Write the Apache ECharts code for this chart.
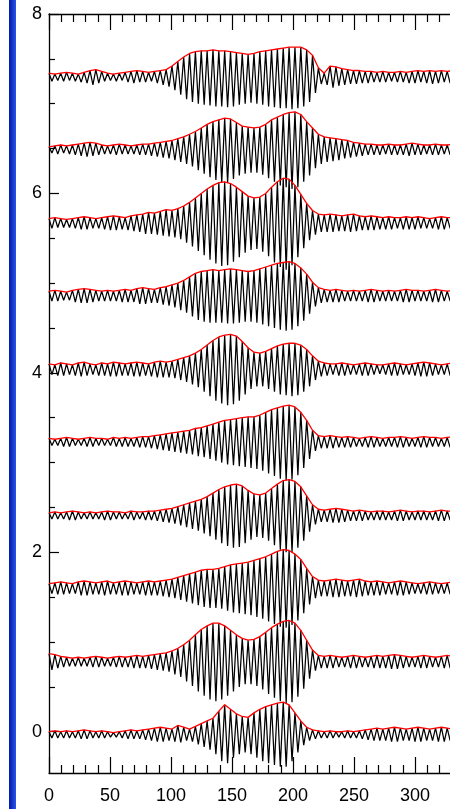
<!DOCTYPE html>
<html>
<head>
<meta charset="utf-8">
<script src="https://cdn.jsdelivr.net/npm/echarts@6/dist/echarts.min.js"></script>
<style>
  html, body { margin: 0; padding: 0; background: #fff; overflow: hidden; }
  #chart { width: 450px; height: 809px; }
</style>
</head>
<body>
<div id="chart"></div>
<script>
// Ten stacked wave-packet traces (bottom to top). Each trace is a zigzag
// alternating between crests (which also form the red envelope) and troughs,
// in hundredths of a y unit relative to the trace baseline.
const halfPeriod = 2.4;           // x distance between a crest and the next trough
const baselines = [-0.03, 0.78, 1.6, 2.41, 3.23, 4.04, 4.86, 5.67, 6.49, 7.3];

const crest0 = [3,4,3,4,3,4,5,4,3,4, 3,2,3,4,5,4,5,6,7,8, 7,6,10,8,6,9,12,15,18,26, 33,28,23,20,19,24,28,31,33,35, 36,33,24,15,8,5,4,3,4,3, 3,4,3,4,5,6,7,6,7,8, 7,6,7,8,7,6,7,8,7,6];
const trough0 = [4,4,4,4,4,5,5,4,4,4, 3,3,4,5,5,5,6,7,8,8, 7,8,9,7,8,11,14,17,22,30, 32,26,22,20,22,26,30,32,34,36, 36,30,20,12,7,5,4,4,4,3, 4,4,4,5,6,7,7,7,8,8, 7,7,8,8,7,7,8,8,7];

const crest1 = [9,8,6,5,4,5,4,5,6,5, 4,5,6,5,6,7,6,7,8,9, 10,12,15,19,24,30,36,40,43,43, 40,35,30,26,24,25,28,33,38,42, 45,46,43,35,24,13,7,6,7,6, 5,6,7,6,5,6,7,6,7,8, 7,6,5,6,7,6,5,6,7,6];
const trough1 = [9,7,6,5,5,5,5,6,6,5, 5,6,6,6,7,7,7,8,9,10, 11,14,17,22,27,33,38,42,44,42, 38,33,28,25,25,27,31,36,40,44, 46,45,39,30,19,10,7,7,7,6, 6,7,7,6,6,7,7,7,8,8, 7,6,6,7,7,6,6,7,7];

const crest2 = [5,6,7,6,5,7,8,7,6,7, 8,6,7,8,7,6,7,8,7,8, 9,10,12,14,16,18,20,21,21,22, 24,26,27,28,29,31,33,35,38,41, 43,42,38,32,22,13,9,8,9,10, 9,8,9,10,8,7,8,7,6,7, 8,7,6,5,6,7,6,5,6,7];
const trough2 = [6,7,7,6,6,8,8,7,7,8, 7,7,8,8,7,7,8,8,8,9, 10,11,13,15,17,19,21,22,22,23, 25,27,28,29,30,32,34,37,40,43, 44,41,36,28,18,11,9,9,10,10, 9,9,10,9,8,8,8,7,7,8, 8,7,6,6,7,7,6,6,7];

const crest3 = [3,4,3,4,5,4,3,4,3,4, 5,4,4,3,5,4,4,5,5,6, 7,8,10,12,14,16,18,21,25,29, 32,34,35,33,28,24,23,25,30,35, 39,40,38,32,22,12,7,6,7,8, 7,6,5,6,5,4,5,5,4,5, 6,5,4,5,5,4,5,6,5,5];
const trough3 = [4,4,4,5,5,4,4,4,4,5, 5,4,4,4,5,4,5,5,6,7, 8,9,11,13,15,17,20,23,27,31, 34,36,35,31,27,24,25,28,33,38, 41,41,36,28,18,10,7,7,8,8, 7,6,6,6,5,5,5,5,5,6, 6,5,5,5,5,5,6,6,5];

const crest4 = [4,3,4,5,4,3,4,5,4,4, 3,5,4,5,4,5,6,6,7,8, 9,10,11,12,13,15,16,18,20,22, 24,25,26,27,28,28,30,33,36,38, 40,41,39,33,24,13,7,6,7,6, 5,6,5,4,5,6,5,4,5,5, 6,5,4,5,6,5,5,4,5,6];
const trough4 = [4,4,5,5,4,4,5,5,4,4, 4,5,5,5,5,6,6,7,8,9, 10,11,12,13,14,16,17,19,21,23, 25,26,27,28,29,30,32,35,38,41, 43,42,37,29,19,10,7,7,7,6, 6,6,5,5,6,6,5,5,5,6, 6,5,5,6,6,5,5,5,6];

const crest5 = [6,5,7,6,5,7,8,6,5,7, 6,8,7,6,7,8,7,6,8,9, 8,9,11,13,15,18,22,27,32,36, 38,39,37,31,24,19,18,20,23,26, 28,29,29,27,22,15,9,7,6,6, 7,6,5,6,7,6,5,5,6,7, 6,5,6,7,8,7,6,5,6,7];
const trough5 = [6,7,7,6,7,8,7,6,7,7, 8,8,7,7,8,8,7,8,9,9, 9,10,12,14,17,20,25,30,35,38, 40,39,35,28,22,19,19,22,25,28, 29,30,29,25,19,12,8,7,6,7, 7,6,6,7,7,6,5,6,7,7, 6,6,7,8,8,7,6,6,7];

const crest6 = [5,6,5,4,6,7,8,7,6,5, 6,5,6,7,6,8,9,8,7,9, 10,12,14,17,21,25,27,28,29,28, 29,30,29,28,27,28,30,32,34,36, 37,38,36,31,24,15,9,7,6,7, 6,5,6,5,6,7,6,5,6,5, 6,7,6,6,5,6,7,6,5,6];
const trough6 = [6,6,5,5,7,8,8,7,6,6, 6,6,7,7,7,9,9,8,8,10, 11,13,16,19,23,27,29,30,30,30, 31,31,30,29,29,30,32,34,36,38, 39,38,34,28,20,12,8,7,7,7, 6,6,6,6,7,7,6,6,6,6, 7,7,6,6,6,7,7,6,6];

const crest7 = [5,6,5,4,5,6,7,6,5,6, 7,8,7,6,8,9,10,12,11,13, 15,14,16,19,23,28,33,38,42,45, 46,44,40,35,30,28,29,33,40,46, 50,49,42,32,22,14,10,9,10,9, 8,9,10,8,7,8,7,6,7,6, 6,7,6,7,6,5,6,7,6,6];
const trough7 = [6,5,5,5,6,7,7,6,6,7, 8,8,7,8,9,10,12,12,13,14, 15,16,18,22,26,31,36,41,45,48, 47,43,38,33,30,29,32,37,44,49, 52,47,38,28,19,13,10,10,10,9, 9,10,9,8,8,8,7,7,7,6, 7,7,7,6,6,6,7,7,6];

const crest8 = [3,4,5,4,5,6,7,8,7,5, 4,5,6,5,4,5,6,6,7,8, 9,10,12,14,17,20,24,28,31,33, 35,34,30,26,25,24,25,28,33,36, 39,41,42,39,31,24,17,14,13,12, 11,10,8,7,6,6,5,5,6,5, 5,6,7,6,5,5,6,5,5,6];
const trough8 = [4,5,4,5,6,7,8,7,6,5, 5,6,5,5,5,6,6,7,8,9, 10,12,14,16,19,23,27,31,34,37, 37,33,29,27,26,26,28,32,36,40, 42,44,42,36,29,21,16,14,13,12, 10,9,8,7,6,6,6,5,6,6, 6,7,6,6,5,6,6,5,6];

const crest9 = [4,3,4,5,4,3,5,7,8,6, 4,3,4,5,6,7,6,5,6,7, 8,12,17,22,26,28,29,29,30,29, 29,28,27,26,25,26,28,29,30,31, 32,33,33,33,30,24,10,4,12,11, 9,8,7,7,6,6,5,6,5,5, 6,5,6,7,6,7,6,7,6,7];
const trough9 = [5,4,5,4,5,6,7,9,7,5, 4,5,4,6,7,6,6,5,7,9, 11,15,20,25,28,30,31,32,33,33, 34,33,31,30,29,30,31,33,34,35, 35,36,35,33,28,18,8,9,12,10, 9,8,8,7,7,6,6,6,5,6, 6,7,7,6,7,8,7,6,7];

const crests = [crest0, crest1, crest2, crest3, crest4, crest5, crest6, crest7, crest8, crest9];
const troughs = [trough0, trough1, trough2, trough3, trough4, trough5, trough6, trough7, trough8, trough9];

// Axis ticks
const xTickStep = 50;
const yMajorTicks = [0, 2, 4, 6, 8];
const yMinorTicks = [0.5, 1, 1.5, 2.5, 3, 3.5, 4.5, 5, 5.5, 6.5, 7, 7.5];

const series = [];
crests.forEach((crest, t) => {
  const base = baselines[t];
  const wave = [];
  for (let k = 0; k < crest.length; k++) {
    wave.push([2 * k * halfPeriod, base + crest[k] / 100]);
    if (k < troughs[t].length) {
      wave.push([(2 * k + 1) * halfPeriod, base - troughs[t][k] / 100]);
    }
  }
  const envelope = crest.map((v, k) => [2 * k * halfPeriod, base + v / 100]);
  series.push({
    type: 'line', data: wave, showSymbol: false, silent: true, z: 2,
    lineStyle: { color: '#000000', width: 1.25 }
  });
  series.push({
    type: 'line', data: envelope, showSymbol: false, silent: true, z: 3,
    lineStyle: { color: '#ff0000', width: 1.3 }
  });
});

const labelFont = { fontFamily: 'Liberation Sans', fontSize: 18, color: '#000' };
const axisLine = { show: true, onZero: false, lineStyle: { color: '#000', width: 1.3 } };

const chart = echarts.init(document.getElementById('chart'), null, { renderer: 'canvas' });
chart.setOption({
  animation: false,
  backgroundColor: '#ffffff',
  grid: { left: 49, top: 14, width: 427, height: 759, outerBoundsMode: 'none', containLabel: false },
  xAxis: [
    {
      type: 'value', position: 'bottom', min: 0, max: 350, interval: xTickStep,
      axisLine: axisLine,
      axisTick: { show: true, inside: true, length: 16, lineStyle: { color: '#000', width: 1.2 } },
      minorTick: { show: true, splitNumber: 5, length: 8, lineStyle: { color: '#000', width: 1.2 } },
      splitLine: { show: false },
      axisLabel: Object.assign({ margin: 14 }, labelFont)
    },
    {
      type: 'value', position: 'top', min: 0, max: 350, interval: xTickStep,
      axisLine: axisLine,
      axisTick: { show: true, inside: true, length: 16, lineStyle: { color: '#000', width: 1.2 } },
      minorTick: { show: true, splitNumber: 5, length: 8, lineStyle: { color: '#000', width: 1.2 } },
      splitLine: { show: false },
      axisLabel: { show: false }
    }
  ],
  yAxis: [
    {
      type: 'value', position: 'left', min: -0.46, max: 8,
      axisLine: axisLine,
      axisTick: { show: true, inside: true, length: 10, customValues: yMajorTicks, lineStyle: { color: '#000', width: 1.2 } },
      splitLine: { show: false },
      axisLabel: Object.assign({ margin: 7, customValues: yMajorTicks }, labelFont)
    },
    {
      type: 'value', position: 'left', min: -0.46, max: 8,
      axisLine: { show: false },
      axisTick: { show: true, inside: true, length: 6, customValues: yMinorTicks, lineStyle: { color: '#000', width: 1.2 } },
      splitLine: { show: false },
      axisLabel: { show: false }
    }
  ],
  graphic: [
    {
      type: 'rect', left: 9, top: 0, z: 10,
      shape: { width: 7, height: 809 },
      style: {
        fill: new echarts.graphic.LinearGradient(0, 0, 1, 0, [
          { offset: 0, color: '#0018a8' },
          { offset: 1, color: '#2a55e6' }
        ])
      }
    }
  ],
  series: series
});
</script>
</body>
</html>
